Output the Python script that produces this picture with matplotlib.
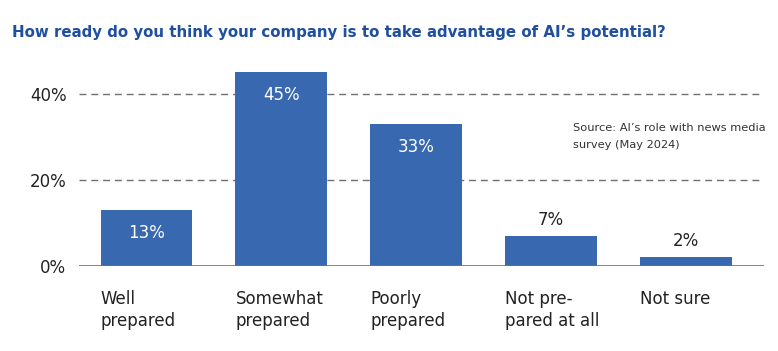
import matplotlib.pyplot as plt
from matplotlib.transforms import offset_copy

# data
categories = ['Well\nprepared', 'Somewhat\nprepared', 'Poorly\nprepared',
              'Not pre-\npared at all', 'Not sure']
values = [13, 45, 33, 7, 2]
y_ticks = [0, 20, 40]
y_tick_labels = ['0%', '20%', '40%']

bar_color = '#3768b0'
title_color = '#1f4f9e'
text_color = '#222222'

plt.rcParams['font.family'] = ['DejaVu Sans']

fig = plt.figure(figsize=(7.78, 3.51), dpi=100)
ax = fig.add_axes([0.1015, 0.2422, 0.8805, 0.564])

x = list(range(len(categories)))
bars = ax.bar(x, values, width=0.68, color=bar_color, zorder=3)

ax.set_xlim(-0.5, 4.58)
ax.set_ylim(0, 46)

# gridlines (dashed) and baseline
for t in y_ticks[1:]:
    ax.axhline(t, color='#707070', lw=1, ls=(0, (5, 3.5)), zorder=1)
ax.axhline(0, color='#707070', lw=1.2, zorder=4)

for s in ax.spines.values():
    s.set_visible(False)
ax.set_xticks([])
ax.set_yticks(y_ticks)
ax.set_yticklabels(y_tick_labels, fontsize=12, color=text_color)
ax.tick_params(axis='y', length=0, pad=9)

# value labels
for xi, v in zip(x, values):
    if v > 10:
        ax.text(xi, v, f'{v}%', ha='center', va='top', color='white', fontsize=12,
                transform=offset_copy(ax.transData, fig=fig, y=-10, units='points'))
    else:
        ax.text(xi, v, f'{v}%', ha='center', va='bottom', color=text_color, fontsize=12,
                transform=offset_copy(ax.transData, fig=fig, y=5, units='points'))

# category labels below the bars, left aligned with bar edge
for xi, cat in zip(x, categories):
    ax.text(xi - 0.34, 0, cat, ha='left', va='top', color=text_color, fontsize=12,
            linespacing=1.3,
            transform=offset_copy(ax.transData, fig=fig, y=-17, units='points'))

fig.text(12 / 778, 1 - 33 / 351, "How ready do you think your company is to take advantage of AI\u2019s potential?",
         ha='left', va='center', color=title_color, fontsize=10.8, fontweight='bold')

fig.text(573 / 778, 1 - 123 / 351, "Source: AI\u2019s role with news media\nsurvey (May 2024)",
         ha='left', va='top', color='#333333', fontsize=8.2, linespacing=1.85)

fig.savefig('out.png', dpi=100)
